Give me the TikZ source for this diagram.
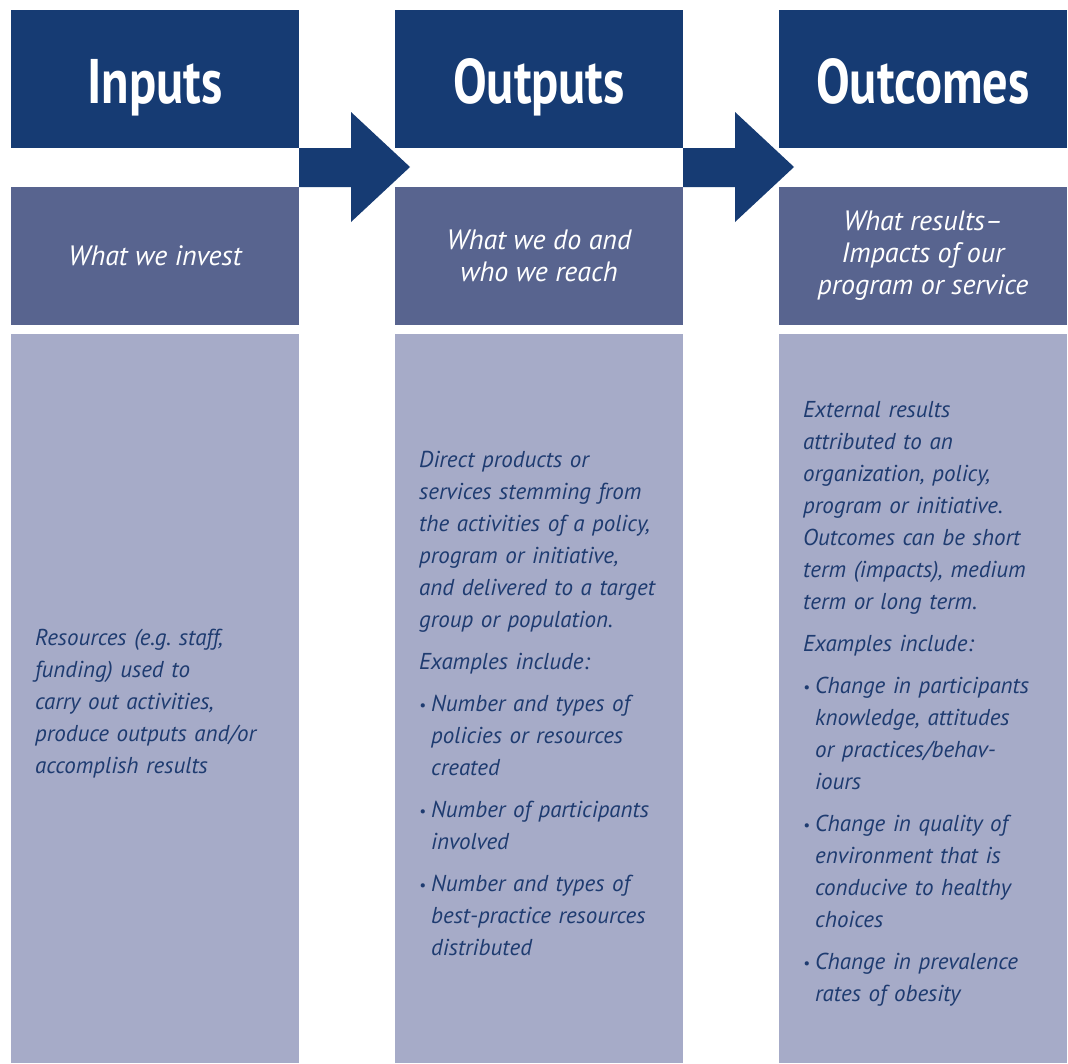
\documentclass[tikz,border=0pt]{standalone}
\usepackage{fontspec}
\setmainfont{PT Sans}
\newfontfamily\titlefont[FakeStretch=0.80]{PT Sans}
\usetikzlibrary{positioning}
\definecolor{navy}{HTML}{163B73}
\definecolor{midblue}{HTML}{58648F}
\definecolor{paleblue}{HTML}{A6ABC8}
\definecolor{inkblue}{HTML}{1E3B70}
\tikzstyle{headbox}=[fill=navy, text=white, minimum width=288pt, minimum height=138pt, inner sep=0pt, outer sep=0pt, text height=48pt, text depth=0pt, font=\titlefont\bfseries\fontsize{63}{63}\selectfont]
\tikzstyle{subbox}=[fill=midblue, text=white, minimum width=288pt, minimum height=138pt, inner sep=0pt, outer sep=0pt, align=center, font=\itshape\fontsize{28}{32}\selectfont]
\tikzstyle{bodybox}=[fill=paleblue, minimum width=288pt, minimum height=729pt, inner sep=0pt, outer sep=0pt]
\tikzstyle{bodytext}=[text=inkblue, inner sep=0pt, text width=252pt, align=left, yshift=-5pt, font=\itshape\frenchspacing\fontsize{23}{32}\selectfont]
\tikzstyle{flow}=[fill=navy]
\newcommand{\bullitem}{\par\vspace{10pt}\noindent\hangindent=12pt\hangafter=1\makebox[12pt][l]{\raisebox{1pt}{\fontsize{15}{15}\selectfont\textbullet}}}
\newcommand{\gap}{\par\vspace{10pt}\noindent}

\begin{document}
\begin{tikzpicture}[x=1pt, y=-1pt, node distance=39pt]
  \useasboundingbox[fill=white] (0,0) rectangle (1068,1063);
  % column heads
  \node[headbox] (inhead) at (155,79) {Inputs};
  \node[headbox] (outhead) at (539,79) {Outputs};
  \node[headbox] (ochead) at (923,79) {Outcomes};
  \node[subbox] (insub) [below=of inhead] {What we invest};
  \node[subbox] (outsub) [below=of outhead] {What we do and\\who we reach};
  \node[subbox] (ocsub) [below=of ochead] {What results--\\Impacts of our\\program or service};
  \node[bodybox] (inbody) [below=9pt of insub] {};
  \node[bodybox] (outbody) [below=9pt of outsub] {};
  \node[bodybox] (ocbody) [below=9pt of ocsub] {};
  % texts
  \node[bodytext] (intext) [right=24pt of inbody.west] {Resources (e.g. staff,\\funding) used to\\carry out activities,\\produce outputs and/or\\accomplish results};
  \node[bodytext] (outtext) [right=24pt of outbody.west] {Direct products or\\services stemming from\\the activities of a policy,\\program or initiative,\\and delivered to a target\\group or population.
    \gap Examples include:
    \bullitem Number and types of\newline policies or resources\newline created
    \bullitem Number of participants\newline involved
    \bullitem Number and types of\newline best-practice resources\newline distributed\par};
  \node[bodytext] (octext) [right=24pt of ocbody.west] {External results\\attributed to an\\organization, policy,\\program or initiative.\\Outcomes can be short\\term (impacts), medium\\term or long term.
    \gap Examples include:
    \bullitem Change in participants\newline knowledge, attitudes\newline or practices/behav-\newline iours
    \bullitem Change in quality of\newline environment that is\newline conducive to healthy\newline choices
    \bullitem Change in prevalence\newline rates of obesity\par};
  % arrows between columns
  \fill[flow] (inhead.south east) -- ++(52,0) -- ++(0,-36) -- ++(59,55) -- ++(-59,55) -- ++(0,-35) -- ++(-52,0) -- cycle;
  \fill[flow] (outhead.south east) -- ++(52,0) -- ++(0,-36) -- ++(59,55) -- ++(-59,55) -- ++(0,-35) -- ++(-52,0) -- cycle;
\end{tikzpicture}
\end{document}
